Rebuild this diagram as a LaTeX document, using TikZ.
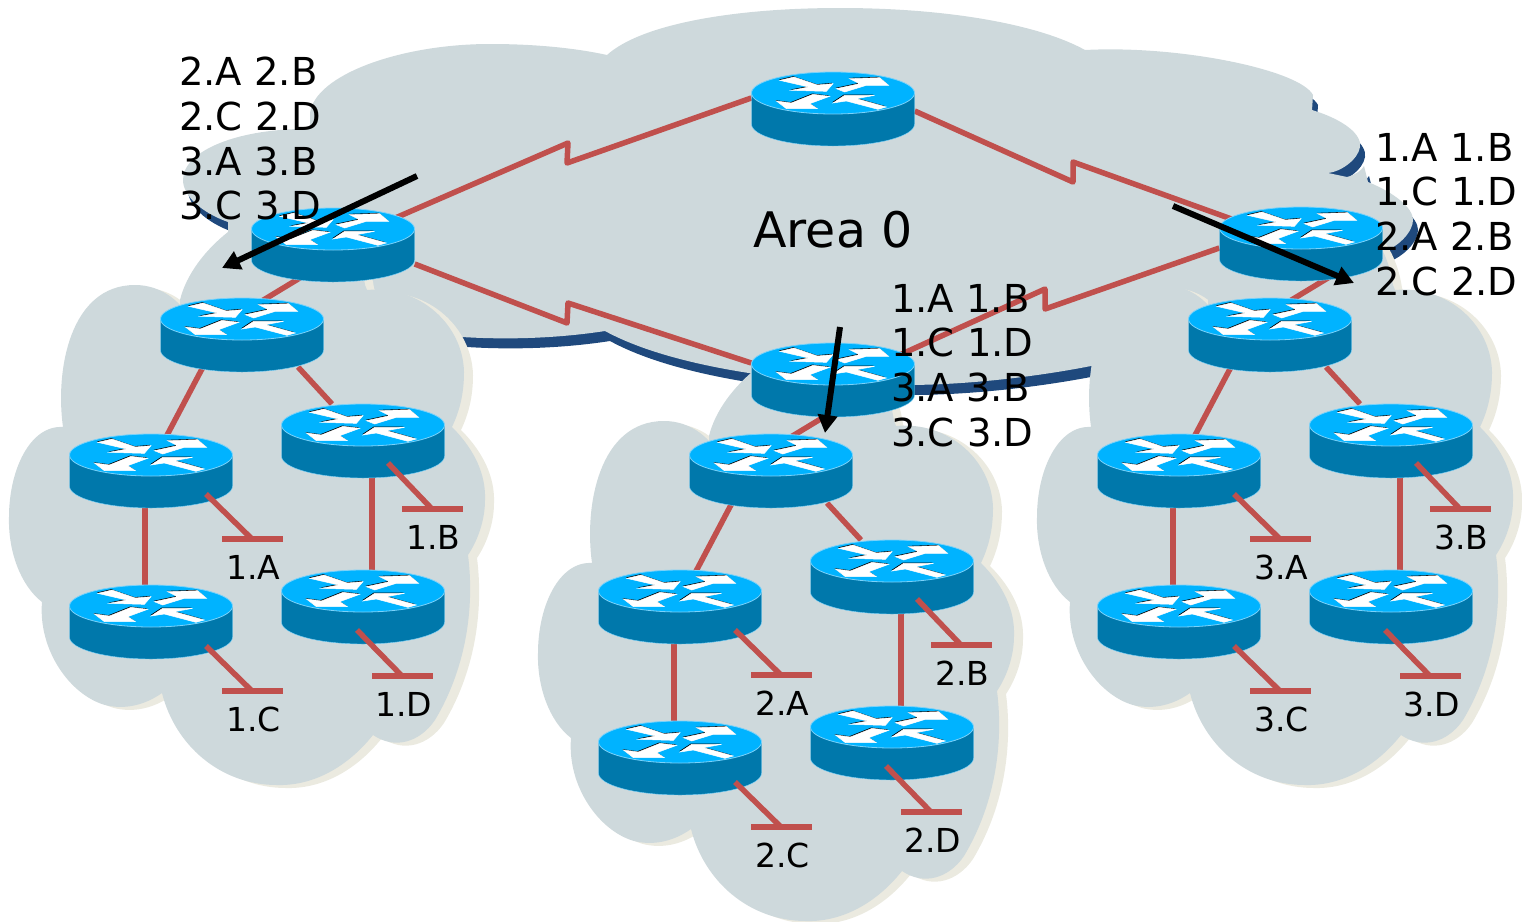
\documentclass[tikz,border=0pt]{standalone}
\usepackage{fontspec}
\setmainfont{DejaVu Sans}
\usetikzlibrary{arrows.meta}
\definecolor{cloudgray}{HTML}{CED9DC}
\definecolor{cloudtan}{HTML}{EBEAE0}
\definecolor{cloudblue}{HTML}{1F497D}
\definecolor{linkred}{HTML}{C0504D}
\definecolor{routertop}{HTML}{00B3FF}
\definecolor{routerside}{HTML}{0078AB}
\definecolor{routeredge}{HTML}{7AD2FA}
\pgfdeclarelayer{back}
\pgfsetlayers{back,main}
\def\routerarrows{
  (-160,-38) -- (-117,-48) -- (-47,-24) -- (0,-28) -- (-20,-5) -- (-125,-8) -- (-73,-18) -- cycle
  (10,-13) -- (80,-28) -- (50,-43) -- (140,-46) -- (167,-23) -- (100,-23) -- (35,-3) -- cycle
  (-170,24) -- (-125,30) -- (-60,4) -- (-10,10) -- (-70,32) -- (-47,47) -- (-140,47) -- cycle
  (0,30) -- (35,7) -- (125,7) -- (70,17) -- (160,42) -- (135,49) -- (40,24) -- cycle}
\tikzset{
  routerbox/.style={minimum width=163pt,minimum height=74pt,inner sep=0pt},
  wanlink/.style={draw=linkred,line width=5.5pt,line join=round},
  lanbar/.style={fill=linkred,minimum width=61pt,minimum height=6pt,inner sep=0pt},
  hostlabel/.style={anchor=base,inner sep=0pt,font=\fontsize{33}{38}\selectfont},
  prefixlist/.style={anchor=north west,inner sep=0pt,align=left,font=\fontsize{38.5}{44.7}\selectfont},
  summary/.style={line width=6pt,-{Triangle[length=18pt,width=19pt]}},
  areapath/.style={insert path={
    (228,222) .. controls (200,212) and (183,195) .. (183,180) .. controls (183,150) and (240,128) .. (310,129)
    -- (310,113) .. controls (315,75) and (400,44) .. (490,44) .. controls (535,44) and (575,48) .. (607,55)
    .. controls (640,25) and (730,8) .. (840,8) .. controls (950,8) and (1040,25) .. (1085,50)
    .. controls (1180,45) and (1300,70) .. (1313,95) -- (1312,110)
    .. controls (1345,120) and (1362,135) .. (1360,147) .. controls (1358,160) and (1340,172) .. (1328,173)
    -- (1347,177) .. controls (1355,175) and (1362,170) .. (1364,166) -- (1368,182)
    .. controls (1395,193) and (1413,208) .. (1413,220) .. controls (1413,232) and (1398,247) .. (1383,252)
    -- (1200,320) .. controls (1160,345) and (1120,360) .. (1091,366)
    .. controls (1040,376) and (970,385) .. (905,385) .. controls (820,385) and (680,372) .. (605,331)
    .. controls (560,338) and (510,340) .. (462,337) .. controls (380,335) and (280,280) .. (228,222) -- cycle}},
  clusterpath/.style={insert path={
    (180,300) .. controls (186,275) and (205,250) .. (228,232)
    -- (228,214) -- (300,210) .. controls (340,215) and (360,250) .. (365,285)
    -- (367,290) .. controls (420,285) and (463,325) .. (464,372) .. controls (464,393) and (460,410) .. (452,427)
    .. controls (475,450) and (486,475) .. (485,500) .. controls (485,520) and (478,540) .. (468,555)
    .. controls (475,610) and (465,670) .. (435,720) .. controls (420,742) and (395,750) .. (373,735)
    .. controls (345,770) and (310,786) .. (277,785) .. controls (220,785) and (175,745) .. (162,693)
    .. controls (145,705) and (125,710) .. (105,705) .. controls (70,695) and (38,650) .. (42,602)
    .. controls (20,585) and (8,550) .. (9,517) .. controls (9,470) and (30,425) .. (63,427)
    .. controls (55,370) and (70,285) .. (135,285) .. controls (152,285) and (168,292) .. (180,305) -- cycle}},
  router/.pic={
    \fill[routerside,draw=routeredge,line width=.4pt] (-81.5,-16) -- (-81.5,15)
      arc[start angle=180,end angle=360,x radius=81.5pt,y radius=22pt] -- (81.5,-16) -- cycle;
    \fill[routertop,draw=routeredge,line width=.8pt] (0,-16) ellipse[x radius=81.5pt,y radius=21pt];
    \begin{scope}[shift={(-.8,-16.8)},x=.333pt,y=-.333pt]
      \fill[black] \routerarrows;
    \end{scope}
    \begin{scope}[shift={(0,-16)},x=.333pt,y=-.333pt]
      \filldraw[white,line width=.5pt] \routerarrows;
    \end{scope}
  }
}
\begin{document}
\begin{tikzpicture}[x=1pt,y=-1pt]
      \useasboundingbox (0,0) rectangle (1522,921);
      \node[routerbox] (rtop) at (833,109) {};
      \node[routerbox] (rleft) at (333,245) {};
      \node[routerbox] (rright) at (1301,244) {};
      \node[routerbox] (rbottom) at (833,380) {};
      \begin{pgfonlayer}{back}
        \fill[cloudblue,shift={(5,10)},areapath];
        \fill[cloudgray,areapath];
      \end{pgfonlayer}
      \foreach \n in {rtop,rleft,rright,rbottom} \pic at (\n) {router};
      \foreach \c/\dx/\dy/\up/\ux/\uy in {1/0/0/rleft/-20/25,2/529/136/rbottom/9/26,3/1028/0/rright/40/26} {
        \begin{scope}[shift={(\dx,\dy)}]
          \node[routerbox] (r\c hub) at (242,335) {};
          \node[routerbox] (r\c A) at (151,471) {};
          \node[routerbox] (r\c B) at (363,441) {};
          \node[routerbox] (r\c C) at (151,622) {};
          \node[routerbox] (r\c D) at (363,607) {};
          \begin{pgfonlayer}{back}
            \fill[cloudtan,shift={(9,3)},clusterpath];
            \fill[cloudgray,clusterpath];
            \draw[wanlink] ([shift={(\ux,\uy)}]\up.center) -- ([shift={(0,-22)}]r\c hub.center);
            \draw[wanlink] ([shift={(-39,32)}]r\c hub.center) -- ([shift={(14,-32)}]r\c A.center);
            \draw[wanlink] ([shift={(56,32)}]r\c hub.center) -- ([shift={(-31,-37)}]r\c B.center);
            \draw[wanlink] ([xshift=-6pt]r\c A.center) -- ([xshift=-6pt]r\c C.center);
            \draw[wanlink] ([xshift=9pt]r\c B.center) -- ([xshift=9pt]r\c D.center);
          \end{pgfonlayer}
          \foreach \h in {hub,A,B,C,D} \pic at (r\c\h) {router};
          \foreach \h/\bx/\by/\sx/\sy in {A/252/539/55/23,B/432/509/25/22,C/252/691/55/24,D/402/676/-6/23} {
            \node[lanbar] (b\c\h) at (\bx,\by) {};
            \draw[wanlink] ([shift={(\sx,\sy)}]r\c\h.center) -- (b\c\h.center);
            \node[hostlabel] (l\c\h) at ([shift={(1.5,40)}]b\c\h.center) {\c.\h};
          }
        \end{scope}
      }
      \begin{pgfonlayer}{back}
        \draw[wanlink] (rleft.center) -- (568,143) -- (567,163) -- ([yshift=11pt]rtop.west);
        \draw[wanlink] ([yshift=-2pt]rtop.east) -- (1073,182) -- (1073,162) -- (rright.center);
        \draw[wanlink] ([yshift=-19pt]rleft.east) -- (567,323) -- (568,303) -- ([yshift=17pt]rbottom.west);
        \draw[wanlink] ([shift={(60,-22)}]rbottom.center) -- (1045,289) -- (1045,309) -- ([yshift=-4pt]rright.west);
      \end{pgfonlayer}
      \node[anchor=base,inner sep=0pt,font=\fontsize{49}{56}\selectfont] (area) at (833,247) {Area 0};
      \coordinate (leftfrom) at (417,176);
      \coordinate (leftto) at (222,268);
      \coordinate (midfrom) at (840,327);
      \coordinate (midto) at (825,433);
      \coordinate (rightfrom) at (1173,206);
      \coordinate (rightto) at (1354,283);
      \draw[summary] (leftfrom) -- (leftto);
      \draw[summary] (midfrom) -- (midto);
      \draw[summary] (rightfrom) -- (rightto);
      \node[prefixlist] (listleft) at (179,57) {2.A 2.B\\2.C 2.D\\3.A 3.B\\3.C 3.D};
      \node[prefixlist] (listmid) at (891,284) {1.A 1.B\\1.C 1.D\\3.A 3.B\\3.C 3.D};
      \node[prefixlist] (listright) at (1375,133) {1.A 1.B\\1.C 1.D\\2.A 2.B\\2.C 2.D};
    \end{tikzpicture}
\end{document}
